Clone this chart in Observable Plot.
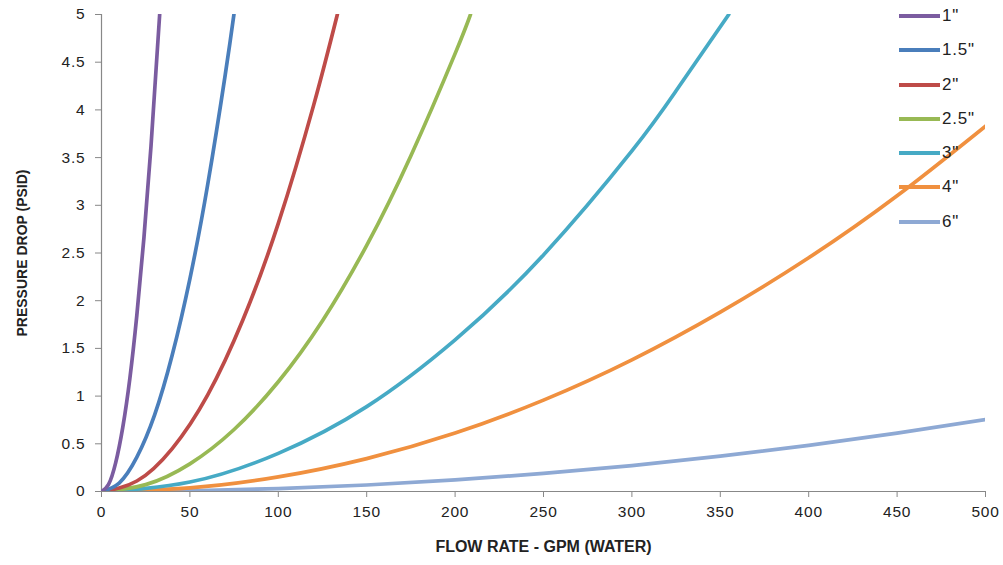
<!DOCTYPE html>
<html>
<head>
<meta charset="utf-8">
<script src="https://cdn.jsdelivr.net/npm/d3@7"></script>
<script src="https://cdn.jsdelivr.net/npm/@observablehq/plot@0.6"></script>
<style>
  html, body { margin: 0; padding: 0; background: #fff; }
  #wrap { position: relative; width: 1003px; height: 565px; font-family: "Liberation Sans", "Open Sans", sans-serif; }
  #legend { position: absolute; left: 899px; top: 6px; }
  .lg { position: relative; height: 34.3px; display: flex; align-items: flex-start; }
  .lg .sw { width: 41px; height: 4px; margin-top: 8px; }
  .lg .tx { font-size: 17px; letter-spacing: 0.8px; color: #222; margin-left: 2px; line-height: 20px; }
</style>
</head>
<body>
<div id="wrap"></div>
<script>
// Series names and colours
const sizes = ['1"', '1.5"', '2"', '2.5"', '3"', '4"', '6"'];
const colors = ["#7B5CA0", "#4A7EBB", "#BE4B48", "#98B954", "#46AAC5", "#F0903F", "#8EA9D4"];

// Flow rate (GPM) and pressure drop (PSID), per pipe size
const flow1 = [0, 4, 8, 12, 16, 20, 24, 28, 32.9];
const drop1 = [0, 0.074, 0.30, 0.67, 1.18, 1.85, 2.66, 3.62, 5.0];

const flow15 = [0, 10, 20, 30, 40, 50, 60, 70, 74.9];
const drop15 = [0, 0.089, 0.36, 0.80, 1.43, 2.23, 3.21, 4.37, 5.0];

const flow2 = [0, 20, 40, 60, 80, 100, 120, 133.4];
const drop2 = [0, 0.11, 0.45, 1.01, 1.80, 2.81, 4.05, 5.0];

const flow25 = [0, 25, 50, 75, 100, 125, 150, 175, 200, 208.7];
const drop25 = [0, 0.072, 0.29, 0.65, 1.15, 1.79, 2.58, 3.52, 4.59, 5.0];

const flow3 = [0, 50, 100, 150, 200, 250, 300, 325, 354.8];
const drop3 = [0, 0.099, 0.40, 0.89, 1.59, 2.48, 3.57, 4.20, 5.0];

const flow4 = [0, 50, 100, 150, 200, 250, 300, 350, 400, 450, 500];
const drop4 = [0, 0.038, 0.153, 0.345, 0.613, 0.958, 1.38, 1.88, 2.45, 3.10, 3.83];

const flow6 = [0, 50, 100, 150, 200, 250, 300, 350, 400, 450, 500];
const drop6 = [0, 0.0076, 0.030, 0.068, 0.121, 0.189, 0.272, 0.370, 0.483, 0.612, 0.755];

// Axis ticks
const xTicks = [0, 50, 100, 150, 200, 250, 300, 350, 400, 450, 500];
const yTicks = [0, 0.5, 1, 1.5, 2, 2.5, 3, 3.5, 4, 4.5, 5];

const flows = [flow1, flow15, flow2, flow25, flow3, flow4, flow6];
const drops = [drop1, drop15, drop2, drop25, drop3, drop4, drop6];
const data = [];
sizes.forEach((s, i) => flows[i].forEach((f, j) => data.push({size: s, flow: f, drop: drops[i][j]})));

const chart = Plot.plot({
  width: 1003,
  height: 565,
  marginLeft: 101,
  marginRight: 18,
  marginTop: 14,
  marginBottom: 74,
  style: {fontFamily: '"Liberation Sans", "Open Sans", sans-serif', color: "#222", background: "transparent"},
  x: {domain: [0, 500]},
  y: {domain: [0, 5]},
  color: {domain: sizes, range: colors},
  marks: [
    Plot.axisX({ticks: xTicks, tickSize: 6, tickPadding: 8, stroke: "#888", tickFormat: d => String(d),
      label: "FLOW RATE - GPM (WATER)", labelAnchor: "center", labelArrow: "none", labelOffset: 60}),
    Plot.axisY({ticks: yTicks, tickSize: 6, tickPadding: 10, stroke: "#888", tickFormat: d => String(d),
      label: "PRESSURE DROP (PSID)", labelAnchor: "center", labelArrow: "none", labelOffset: 84}),
    Plot.ruleX([0], {stroke: "#888", strokeWidth: 1.2}),
    Plot.ruleY([0], {stroke: "#888", strokeWidth: 1.2}),
    Plot.line(data.filter(d => d.size === '6"'), {x: "flow", y: "drop", stroke: "size", strokeWidth: 3.7, curve: "natural", clip: true}),
    ...sizes.slice(0, 6).reverse().map(s =>
      Plot.line(data.filter(d => d.size === s), {x: "flow", y: "drop", stroke: "size", strokeWidth: 3.7, curve: "natural", clip: true}))
  ]
});

const wrap = document.getElementById("wrap");
wrap.appendChild(chart);
const svg = d3.select(chart);
svg.selectAll("g[aria-label$='tick label'] text")
  .style("font-size", "15.5px").style("letter-spacing", "0.8px").style("fill", "#222");
svg.selectAll("g[aria-label='x-axis label'] text")
  .style("font-weight", "bold").style("font-size", "16px").style("fill", "#222");
svg.selectAll("g[aria-label='y-axis label'] text")
  .style("font-weight", "bold").style("font-size", "14px").style("fill", "#222");

const legend = document.createElement("div");
legend.id = "legend";
sizes.forEach((s, i) => {
  const row = document.createElement("div");
  row.className = "lg";
  row.innerHTML = `<div class="sw" style="background:${colors[i]}"></div><div class="tx">${s}</div>`;
  legend.appendChild(row);
});
wrap.appendChild(legend);
</script>
</body>
</html>
